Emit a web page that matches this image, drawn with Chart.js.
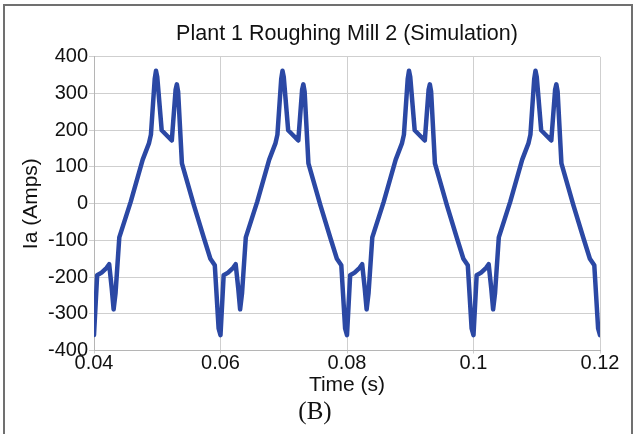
<!DOCTYPE html>
<html>
<head>
<meta charset="utf-8">
<script src="https://cdn.jsdelivr.net/npm/chart.js@4/dist/chart.umd.min.js"></script>
<style>
  body { margin: 0; background: #fff; }
  #wrap { position: relative; width: 634px; height: 434px; }
  #frame { position: absolute; left: 3px; top: 4px; width: 626px; height: 440px;
           border: 2px solid #707070; pointer-events: none; }
</style>
</head>
<body>
<div id="wrap">
  <canvas id="myChart" width="634" height="434"></canvas>
  <div id="frame"></div>
</div>
<script>
// simulated phase current
const timeS = [
  0.0400, 0.0405, 0.0412, 0.0420, 0.0424, 0.0428, 0.0431, 0.0434, 0.0440, 0.0458, 0.0477, 0.0487, 0.0490, 0.0496, 0.0498, 0.0500, 0.0507, 0.0523, 0.0529, 0.0531, 0.0533, 0.0539, 0.0558, 0.0574, 0.0584, 0.0591, 0.0597,
  0.0600, 0.0605, 0.0612, 0.0620, 0.0624, 0.0628, 0.0631, 0.0634, 0.0640, 0.0658, 0.0677, 0.0687, 0.0690, 0.0696, 0.0698, 0.0700, 0.0707, 0.0723, 0.0729, 0.0731, 0.0733, 0.0739, 0.0758, 0.0774, 0.0784, 0.0791, 0.0797,
  0.0800, 0.0805, 0.0812, 0.0820, 0.0824, 0.0828, 0.0831, 0.0834, 0.0840, 0.0858, 0.0877, 0.0887, 0.0890, 0.0896, 0.0898, 0.0900, 0.0907, 0.0923, 0.0929, 0.0931, 0.0933, 0.0939, 0.0958, 0.0974, 0.0984, 0.0991, 0.0997,
  0.1000, 0.1005, 0.1012, 0.1020, 0.1024, 0.1028, 0.1031, 0.1034, 0.1040, 0.1058, 0.1077, 0.1087, 0.1090, 0.1096, 0.1098, 0.1100, 0.1107, 0.1123, 0.1129, 0.1131, 0.1133, 0.1139, 0.1158, 0.1174, 0.1184, 0.1191, 0.1197,
  0.1200
];
const currentA = [
  -358, -195, -188, -175, -165, -230, -288, -245, -92, 5, 120, 165, 188, 340, 362, 345, 200, 172, 310, 325, 305, 110, -5, -95, -150, -168, -340,
  -358, -195, -188, -175, -165, -230, -288, -245, -92, 5, 120, 165, 188, 340, 362, 345, 200, 172, 310, 325, 305, 110, -5, -95, -150, -168, -340,
  -358, -195, -188, -175, -165, -230, -288, -245, -92, 5, 120, 165, 188, 340, 362, 345, 200, 172, 310, 325, 305, 110, -5, -95, -150, -168, -340,
  -358, -195, -188, -175, -165, -230, -288, -245, -92, 5, 120, 165, 188, 340, 362, 345, 200, 172, 310, 325, 305, 110, -5, -95, -150, -168, -340,
  -358
];
const xTickLabels = ['0.04', '0.06', '0.08', '0.1', '0.12'];

const points = timeS.map((t, i) => ({ x: t, y: currentA[i] }));
const sans = 'Liberation Sans, Arial, Helvetica, sans-serif';

const config = {
  type: 'line',
  data: {
    datasets: [{
      label: 'Ia',
      data: points,
      borderColor: '#2b48a4',
      borderWidth: 4.5,
      borderJoinStyle: 'round',
      borderCapStyle: 'round',
      pointRadius: 0,
      tension: 0,
    }]
  },
  options: {
    responsive: false,
    animation: false,
    layout: { padding: { left: 6, right: 10, top: 0, bottom: 0 } },
    plugins: {
      legend: { display: false },
      tooltip: { enabled: false },
      title: {
        display: true,
        fullSize: false,
        text: 'Plant 1 Roughing Mill 2 (Simulation)',
        color: '#111',
        font: { family: sans, size: 21.5, weight: 'normal' },
        padding: { top: 21, bottom: 10 }
      },
      subtitle: {
        display: true,
        position: 'bottom',
        text: '(B)',
        color: '#111',
        font: { family: 'Liberation Serif, Times New Roman, serif', size: 25, weight: 'normal', lineHeight: 1.1 },
        padding: { top: 0, bottom: 8 }
      }
    },
    scales: {
      x: {
        type: 'linear',
        min: 0.04,
        max: 0.12,
        afterBuildTicks: (axis) => {
          axis.ticks = xTickLabels.map(v => ({ value: parseFloat(v) }));
        },
        afterFit: (axis) => { axis.height = 48; },
        ticks: {
          color: '#111',
          padding: 0,
          maxRotation: 0,
          font: { family: sans, size: 20, lineHeight: 1 },
          callback: (v, i) => xTickLabels[i]
        },
        grid: { color: '#cfcfcf', tickLength: 3 },
        border: { color: '#b5b5b5' },
        title: {
          display: true,
          text: 'Time (s)',
          color: '#111',
          font: { family: sans, size: 21, lineHeight: 1.1 },
          padding: { top: 0, bottom: 2 }
        }
      },
      y: {
        min: -400,
        max: 400,
        afterFit: (axis) => { axis.width = 88; },
        ticks: {
          stepSize: 100,
          color: '#111',
          padding: 1,
          font: { family: sans, size: 20 }
        },
        grid: { color: '#cfcfcf', tickLength: 5 },
        border: { color: '#b5b5b5' },
        title: {
          display: true,
          text: 'Ia (Amps)',
          color: '#111',
          font: { family: sans, size: 21 },
          padding: { top: 13, bottom: 0 }
        }
      },
      // empty right-hand axis, only keeps room on the right of the plot
      yRight: {
        position: 'right',
        afterFit: (axis) => { axis.width = 24; },
        ticks: { display: false },
        grid: { drawOnChartArea: false, drawTicks: false },
        border: { display: false }
      }
    }
  }
};

const myChart = new Chart(document.getElementById('myChart'), config);
</script>
</body>
</html>
